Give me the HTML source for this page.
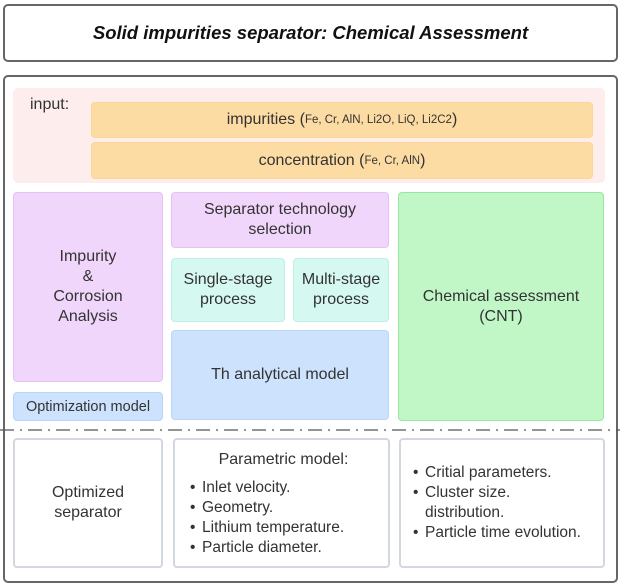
<!DOCTYPE html>
<html><head><meta charset="utf-8"><style>
body{margin:0;width:620px;height:585px;background:#fff;position:relative;overflow:hidden;font-family:"Liberation Sans",sans-serif;color:#333}
.b{position:absolute;box-sizing:border-box;display:flex;align-items:center;justify-content:center;text-align:center;border-radius:4px;font-size:16px;line-height:20px}
ul{margin:0;padding:0;list-style:none;text-align:left}
li{position:relative;padding-left:12px;line-height:20px;font-size:15.5px}
li:before{content:"•";position:absolute;left:0}
small{font-size:11.5px}
</style></head><body>
<div class="b" style="left:3px;top:4px;width:615px;height:58px;border:2px solid #666;border-radius:5px;font-style:italic;font-weight:bold;font-size:18.5px;color:#111">Solid impurities separator: Chemical Assessment</div>
<div class="b" style="left:3px;top:75px;width:615px;height:508px;border:2px solid #666;border-radius:5px"></div>
<div class="b" style="left:13px;top:88px;width:592px;height:95px;background:#fdeeed;border-radius:5px"></div>
<div style="position:absolute;left:30px;top:96px;font-size:16px">input:</div>
<div class="b" style="left:91px;top:102px;width:502px;height:36px;background:#fddca4;border:1px solid #fbd59a">impurities (<small>Fe, Cr, AlN, Li2O, LiQ, Li2C2</small>)</div>
<div class="b" style="left:91px;top:142px;width:502px;height:37px;background:#fddca4;border:1px solid #fbd59a">concentration (<small>Fe, Cr, AlN</small>)</div>
<div class="b" style="left:13px;top:192px;width:150px;height:190px;background:#f1d6fb;border:1px solid #e8c0f5">Impurity<br>&amp;<br>Corrosion<br>Analysis</div>
<div class="b" style="left:171px;top:192px;width:218px;height:56px;background:#f1d6fb;border:1px solid #e8c0f5">Separator technology<br>selection</div>
<div class="b" style="left:171px;top:258px;width:114px;height:64px;background:#d5f8f0;border:1px solid #bdf0e6">Single-stage<br>process</div>
<div class="b" style="left:293px;top:258px;width:96px;height:64px;background:#d5f8f0;border:1px solid #bdf0e6">Multi-stage<br>process</div>
<div class="b" style="left:171px;top:330px;width:218px;height:90px;background:#cde2fc;border:1px solid #b9d5f8">Th analytical model</div>
<div class="b" style="left:13px;top:392px;width:150px;height:29px;background:#cde2fc;border:1px solid #b9d5f8;font-size:14.5px">Optimization model</div>
<div class="b" style="left:398px;top:192px;width:206px;height:229px;background:#c1f6c7;border:1px solid #98e6a2">Chemical assessment<br>(CNT)</div>
<svg style="position:absolute;left:0;top:428px;display:block" width="620" height="4"><line x1="0" y1="2" x2="620" y2="2" stroke="#555" stroke-width="1.3" stroke-dasharray="14,6,2,6"/></svg>
<div class="b" style="left:13px;top:438px;width:150px;height:130px;border:2px solid #d3d8e0">Optimized<br>separator</div>
<div class="b" style="left:173px;top:438px;width:217px;height:130px;border:2px solid #d3d8e0;flex-direction:column;align-items:flex-start;justify-content:flex-start;padding:10px 0 0 15px">
<div style="width:187px;text-align:center;margin-bottom:8px">Parametric model:</div>
<ul><li>Inlet velocity.</li><li>Geometry.</li><li>Lithium temperature.</li><li>Particle diameter.</li></ul></div>
<div class="b" style="left:399px;top:438px;width:206px;height:130px;border:2px solid #d3d8e0;justify-content:flex-start;padding:0 0 0 12px">
<ul><li>Critial parameters.</li><li>Cluster size.<br>distribution.</li><li>Particle time evolution.</li></ul></div>
</body></html>
